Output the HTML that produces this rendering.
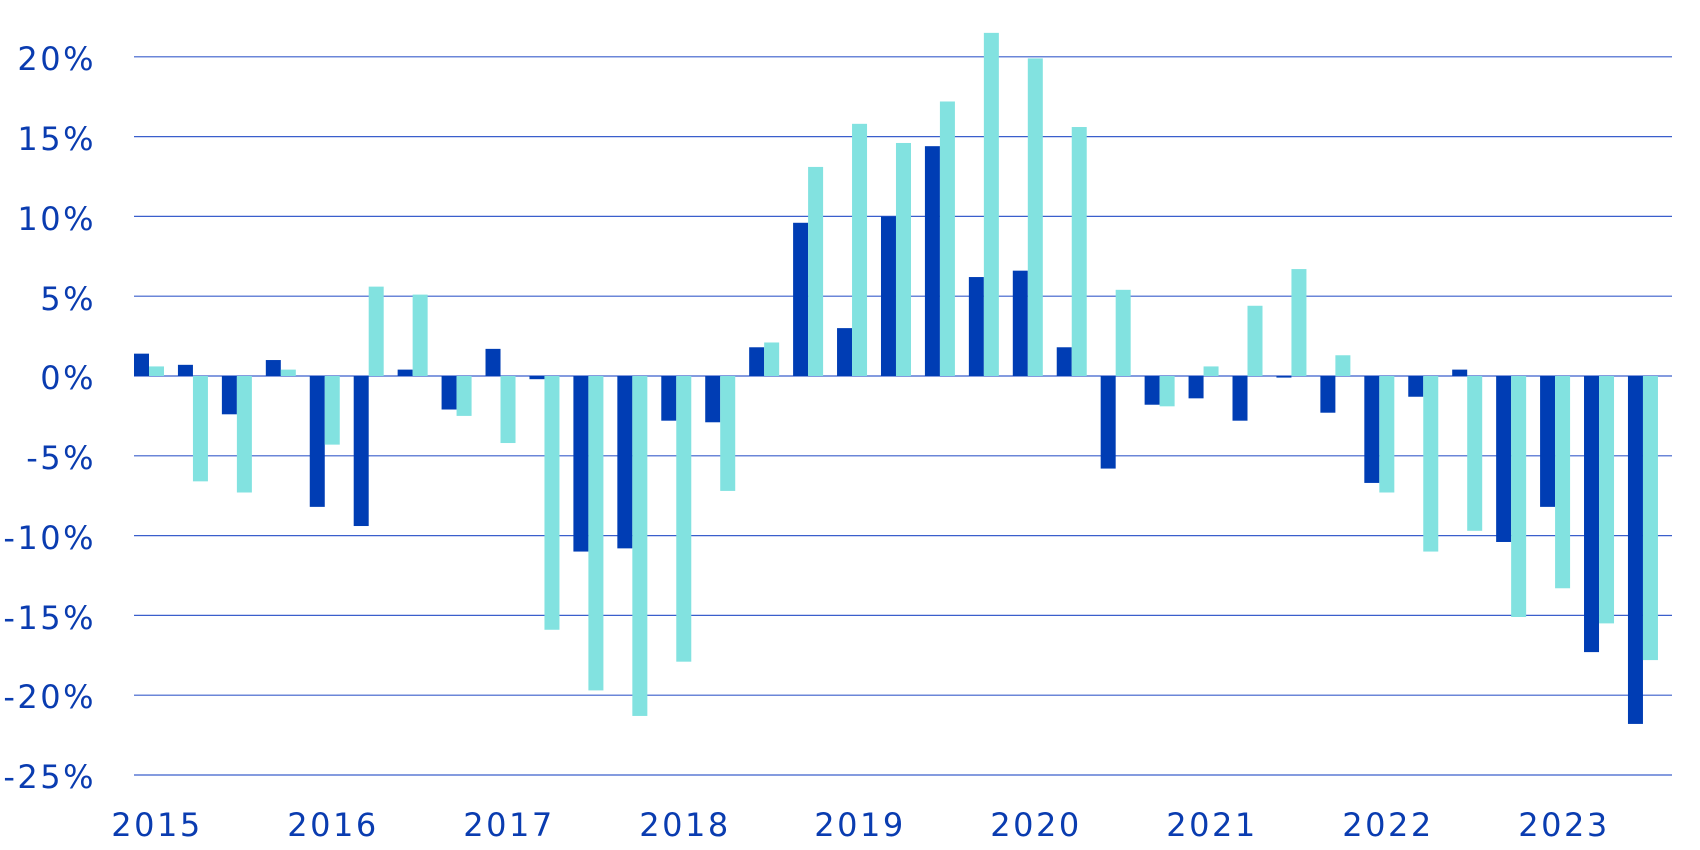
<!DOCTYPE html>
<html><head><meta charset="utf-8"><style>
html,body{margin:0;padding:0;background:#fff;}
svg{display:block;}
text{font-family:"DejaVu Sans","Liberation Sans",sans-serif;fill:#0a3cb0;font-size:32px;letter-spacing:2.5px;}
</style></head><body>
<svg id="c" width="1700" height="850" viewBox="0 0 1700 850" xmlns="http://www.w3.org/2000/svg">
<g id="grid" stroke="#3a5fcc" stroke-width="1.2"></g>
<g id="bars"></g>
<g text-anchor="end">
<text x="96" y="70">20%</text>
<text x="96" y="150">15%</text>
<text x="96" y="230">10%</text>
<text x="96" y="310">5%</text>
<text x="96" y="389">0%</text>
<text x="96" y="469">-5%</text>
<text x="96" y="549">-10%</text>
<text x="96" y="629">-15%</text>
<text x="96" y="708">-20%</text>
<text x="96" y="788">-25%</text>
</g>
<g text-anchor="middle">
<text x="157" y="836">2015</text>
<text x="333" y="836">2016</text>
<text x="509" y="836">2017</text>
<text x="685" y="836">2018</text>
<text x="860" y="836">2019</text>
<text x="1036" y="836">2020</text>
<text x="1212" y="836">2021</text>
<text x="1388" y="836">2022</text>
<text x="1564" y="836">2023</text>
</g>
</svg>
<script>
var d=[[1.4,0.6],[0.7,-6.6],[-2.4,-7.3],[1.0,0.4],[-8.2,-4.3],[-9.4,5.6],[0.4,5.1],[-2.1,-2.5],[1.7,-4.2],[-0.2,-15.9],[-11.0,-19.7],[-10.8,-21.3],[-2.8,-17.9],[-2.9,-7.2],[1.8,2.1],[9.6,13.1],[3.0,15.8],[10.0,14.6],[14.4,17.2],[6.2,21.5],[6.6,19.9],[1.8,15.6],[-5.8,5.4],[-1.8,-1.9],[-1.4,0.6],[-2.8,4.4],[-0.1,6.7],[-2.3,1.3],[-6.7,-7.3],[-1.3,-11.0],[0.4,-9.7],[-10.4,-15.1],[-8.2,-13.3],[-17.3,-15.5],[-21.8,-17.8]];
var ns="http://www.w3.org/2000/svg",y0=376,k=15.96,x0=134,gw=43.94;
var g=document.getElementById('grid'),b=document.getElementById('bars');
for(var i=-5;i<=4;i++){var y=y0-i*5*k;var l=document.createElementNS(ns,'line');l.setAttribute('x1',134);l.setAttribute('x2',1672);l.setAttribute('y1',y);l.setAttribute('y2',y);g.appendChild(l);}
function r(x,v,c){var h=v*k,r=document.createElementNS(ns,'rect');r.setAttribute('x',x);r.setAttribute('width',15);r.setAttribute('y',v>0?y0-h:y0);r.setAttribute('height',Math.abs(h));r.setAttribute('fill',c);b.appendChild(r);}
d.forEach(function(p,i){var x=x0+i*gw;r(x,p[0],'#003db4');r(x+15,p[1],'#82e2e0');});
</script>
</body></html>
